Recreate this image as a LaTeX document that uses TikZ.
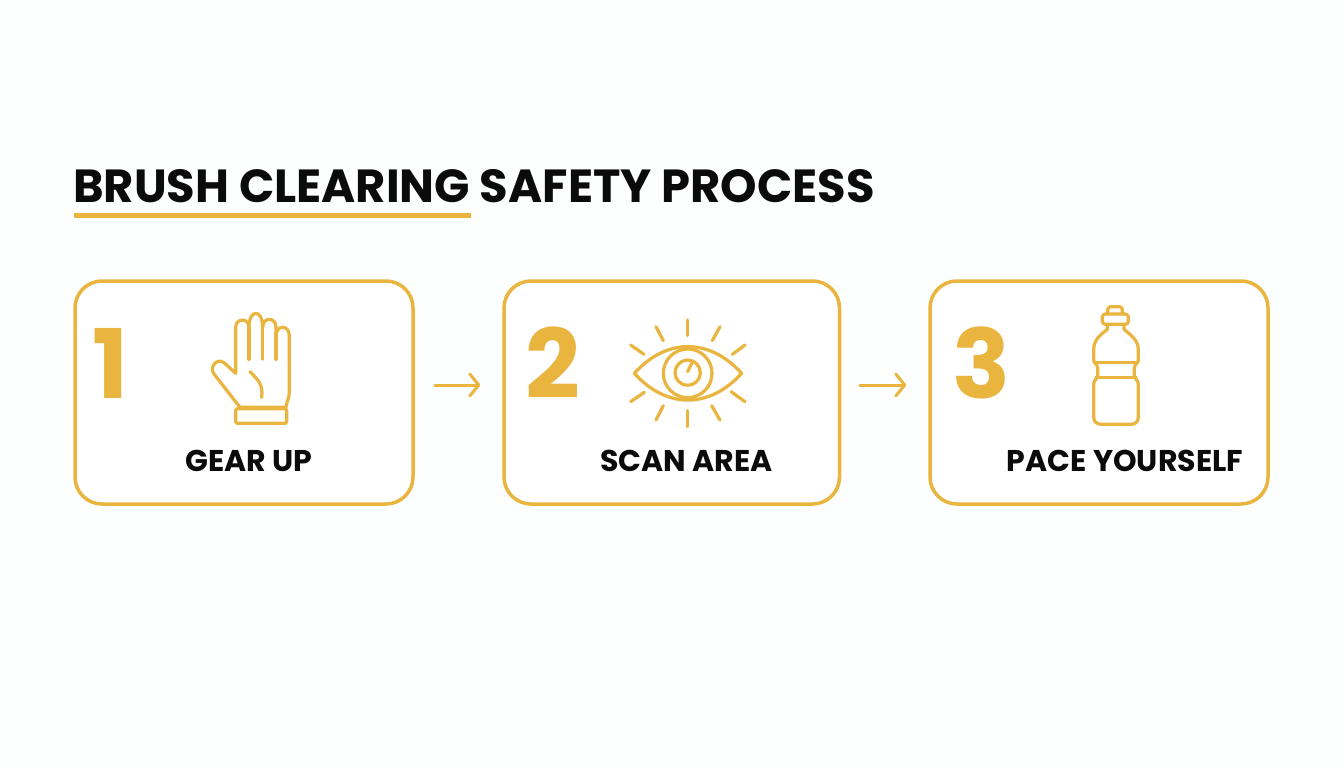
\documentclass[tikz,border=0pt]{standalone}
\usepackage{fontspec}
\setmainfont{Poppins}
\usetikzlibrary{arrows.meta}
\definecolor{gold}{HTML}{E9B53E}
\definecolor{paper}{HTML}{FDFEFE}
\definecolor{ink}{HTML}{0B0B0B}
\tikzset{
  stepbox/.style={draw=gold,line width=3.5pt,rounded corners=27pt,fill=white,inner sep=0pt},
  numeral/.style={text=gold,anchor=base,inner sep=0pt,font=\fontsize{96}{96}\selectfont\bfseries},
  steplabel/.style={text=ink,inner sep=0pt,font=\fontsize{30}{30}\selectfont\bfseries},
  icon/.style={draw=gold,line width=3.2pt,line cap=round,line join=round},
  flow/.style={draw=gold,line width=3pt,line cap=round,-{Straight Barb[length=9pt,width=22pt,round]}},
}
\begin{document}
\begin{tikzpicture}[x=1pt,y=-1pt]

      \path[fill=paper,use as bounding box] (0,0) rectangle (1344,768);

      \node[text=ink,inner sep=0pt,font=\fontsize{46.4}{46.4}\selectfont\bfseries] (title) at (474,186) {BRUSH CLEARING SAFETY PROCESS};
      \fill[gold] (74,213) rectangle (471,218);

      \begin{scope}[every node/.style={stepbox,minimum height=223pt}]
        \node[minimum width=338pt]   (box1) at (244,392.5)   {};
        \node[minimum width=335.5pt] (box2) at (671.75,392.5) {};
        \node[minimum width=338pt]   (box3) at (1099,392.5)  {};
      \end{scope}

      \begin{scope}[every node/.style={numeral}]
        \node (num1) at (111,398)   {1};
        \node (num2) at (552.5,398) {2};
        \node (num3) at (981.5,398) {3};
      \end{scope}

      \begin{scope}[every node/.style={steplabel}]
        \node (label1) at (249,461)    {GEAR UP};
        \node (label2) at (686.7,461)  {SCAN AREA};
        \node (label3) at (1125,461)   {PACE YOURSELF};
      \end{scope}

      \begin{scope}[every edge/.style={flow}]
        \path ([shift={(20,-7.5)}]box1.east) edge ([shift={(-22,-7.5)}]box2.west);
        \path ([shift={(18.5,-7.5)}]box2.east) edge ([shift={(-22,-7.5)}]box3.west);
      \end{scope}

      \begin{scope}[shift={(60,270)},scale=1/3,icon]
        \draw (540,412) -- (462,312) .. controls (447,292) and (470,262) .. (492,278)
          -- (527,310) -- (527,172) .. controls (527,143) and (567,143) .. (567,172)
          .. controls (567,116) and (608,116) .. (608,172)
          .. controls (608,140) and (648,140) .. (648,172) -- (648,198)
          .. controls (648,163) and (688,163) .. (688,198)
          -- (688,365) .. controls (688,385) and (680,395) .. (678,412) -- cycle;
        \draw (567,172) -- (567,268);
        \draw (608,172) -- (608,268);
        \draw (648,190) -- (648,268);
        \draw (570,305) .. controls (595,330) and (610,345) .. (605,382);
        \draw[rounded corners=2pt] (527,416) rectangle (680,460);
      \end{scope}

      \begin{scope}[shift={(490,270)},scale=1/3,icon]
        \draw (433,310) .. controls (530,203) and (658,203) .. (755,310)
          .. controls (658,417) and (530,417) .. (433,310) -- cycle;
        \draw (593,310) circle (73);
        \draw (593,308) circle (38);
        \draw (593,305) -- (605,280);
        \foreach \xa/\ya/\xb/\yb in {593/150/593/197,498/170/520/212,690/170/667/212,
            422/225/462/253,765/225/727/253,422/395/463/367,765/395/723/365,
            498/450/520/407,690/450/665/407,593/422/593/470}
          \draw (\xa,\ya) -- (\xb,\yb);
      \end{scope}

      \begin{scope}[shift={(920,270)},scale=1/3,icon]
        \draw[rounded corners=3pt] (563,132) -- (563,110) -- (607,110) -- (607,132);
        \draw[rounded corners=3pt] (547,132) rectangle (625,163);
        \draw (562,163) -- (562,178) .. controls (540,195) and (521,210) .. (521,240)
          -- (521,270) .. controls (521,280) and (533,282) .. (533,295)
          -- (533,315) .. controls (533,328) and (521,330) .. (521,342)
          -- (521,440) .. controls (521,455) and (530,463) .. (545,463)
          -- (632,463) .. controls (647,463) and (655,455) .. (655,440)
          -- (655,342) .. controls (655,330) and (643,328) .. (643,315)
          -- (643,295) .. controls (643,282) and (655,280) .. (655,270)
          -- (655,240) .. controls (655,210) and (632,195) .. (612,178) -- (612,163);
        \draw (524,277) -- (652,277);
        \draw (527,322) -- (649,322);
      \end{scope}

    \end{tikzpicture}
\end{document}
